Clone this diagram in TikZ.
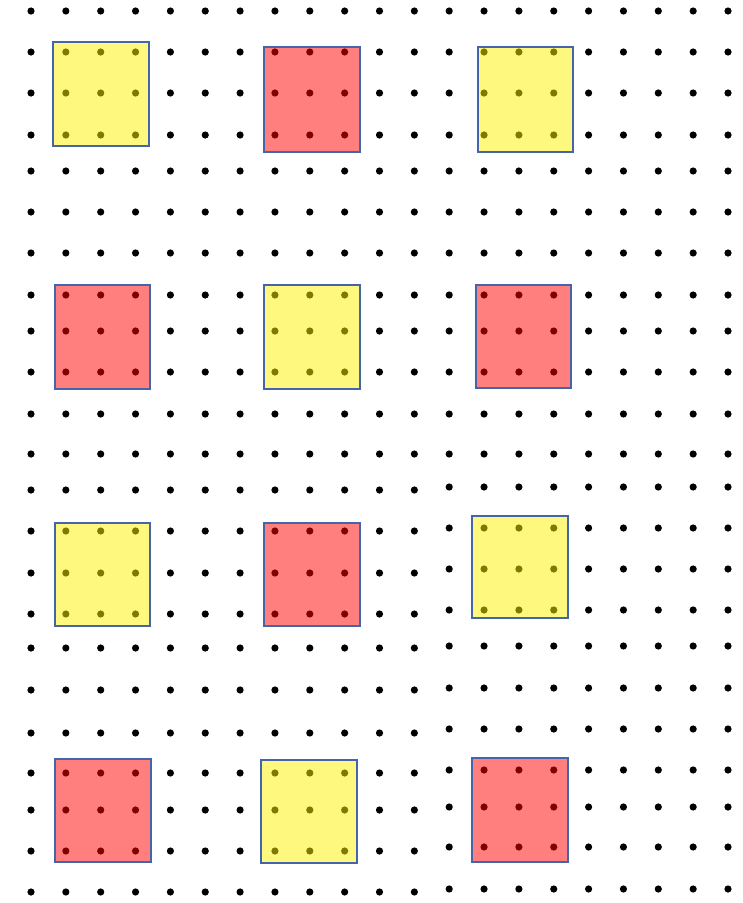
\documentclass[tikz,border=0pt]{standalone}
\definecolor{sqblue}{RGB}{70,100,170}
\tikzset{
  gdot/.style={fill=black},
  sq/.style={draw=sqblue, line width=1.1pt, fill opacity=0.5},
  ysq/.style={sq, fill=yellow},
  rsq/.style={sq, fill=red}
}
\begin{document}
\begin{tikzpicture}[x=1pt,y=-1pt]
\useasboundingbox (0,0) rectangle (743,903);
% left part of the dot grid (columns 0..11)
\foreach \y in {11,52,93,135,171,212,253,295,331,372,414,454,490,531,573,614,648,690,733,773,810,851,892}{
  \foreach \i in {0,...,11}{
    \fill[gdot] ({31+34.85*\i},\y) circle (3.6pt);
  }
}
% right part of the dot grid (columns 12..20)
\foreach \y in {11,52,93,135,171,212,253,295,331,372,414,454,487,528,569,610,646,688,729,770,807,847,889}{
  \foreach \i in {12,...,20}{
    \fill[gdot] ({31+34.85*\i},\y) circle (3.6pt);
  }
}
% squares
\filldraw[ysq] (53,42) rectangle (149,146);
\filldraw[rsq] (264,47) rectangle (360,152);
\filldraw[ysq] (478,47) rectangle (573,152);

\filldraw[rsq] (55,285) rectangle (150,389);
\filldraw[ysq] (264,285) rectangle (360,389);
\filldraw[rsq] (476,285) rectangle (571,388);

\filldraw[ysq] (55,523) rectangle (150,626);
\filldraw[rsq] (264,523) rectangle (360,626);
\filldraw[ysq] (472,516) rectangle (568,618);

\filldraw[rsq] (55,759) rectangle (151,862);
\filldraw[ysq] (261,760) rectangle (357,863);
\filldraw[rsq] (472,758) rectangle (568,862);
\end{tikzpicture}
\end{document}
